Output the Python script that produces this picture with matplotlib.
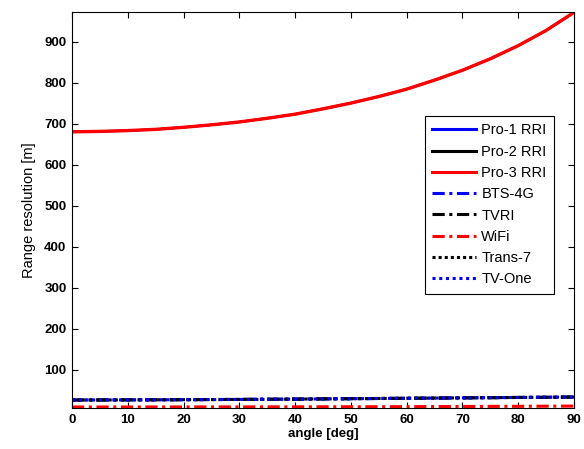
import numpy as np
import matplotlib
matplotlib.use('Agg')
import matplotlib.pyplot as plt

# Range resolution versus look angle for each illuminator
angle_deg = [0, 5, 10, 15, 20, 25, 30, 35, 40, 45,
             50, 55, 60, 65, 70, 75, 80, 85, 90]

# FM radio channels (same bandwidth, the three curves coincide)
pro1_rri = [680, 681, 683, 686, 691, 697, 704, 713, 723, 736,
            750, 766, 784, 806, 830, 858, 890, 927, 971]
pro2_rri = list(pro1_rri)
pro3_rri = list(pro1_rri)

# Wideband transmitters
bts_4g = [26.5, 26.6, 26.8, 27.0, 27.3, 27.6, 27.9, 28.3, 28.7, 29.2,
          29.7, 30.2, 30.7, 31.2, 31.7, 32.2, 32.7, 33.2, 33.7]
tvri = list(bts_4g)
trans_7 = list(bts_4g)
tv_one = list(bts_4g)
wifi = [9.5, 9.5, 9.5, 9.6, 9.6, 9.7, 9.7, 9.8, 9.9, 10.0,
        10.1, 10.2, 10.3, 10.5, 10.7, 10.9, 11.1, 11.4, 11.7]

plt.rcParams['font.family'] = ['Liberation Sans', 'DejaVu Sans']

fig = plt.figure(figsize=(5.84, 4.49), dpi=100)
ax = fig.add_axes([0.1233, 0.0913, 0.8596, 0.8820])

dashdot = (0, (4, 1.5, 1, 1.5))
series = [
    (pro1_rri, 'Pro-1 RRI', 'blue', '-', 1.6),
    (pro2_rri, 'Pro-2 RRI', 'black', '-', 1.6),
    (pro3_rri, 'Pro-3 RRI', 'red', '-', 2.4),
    (bts_4g, 'BTS-4G', 'blue', dashdot, 2.2),
    (tvri, 'TVRI', 'black', dashdot, 2.2),
    (wifi, 'WiFi', 'red', dashdot, 2.2),
    (trans_7, 'Trans-7', 'black', (0, (1, 1)), 2.2),
    (tv_one, 'TV-One', 'blue', (0, (1, 1.2)), 2.2),
]
for values, label, color, ls, lw in series:
    ax.plot(angle_deg, values, color=color, linestyle=ls,
            linewidth=lw, label=label)

ax.set_xlim(0, 90)
ax.set_ylim(7, 972)
ax.set_xticks(np.arange(0, 91, 10))
ax.set_yticks(np.arange(100, 901, 100))
ax.tick_params(direction='in', length=4, width=0.8, top=True, right=True,
               labelsize=9.5, pad=4)
for lbl in ax.get_xticklabels() + ax.get_yticklabels():
    lbl.set_fontweight('bold')
for sp in ax.spines.values():
    sp.set_linewidth(0.8)

ax.set_xlabel('angle [deg]', fontsize=9.5, fontweight='bold', labelpad=2)
ax.set_ylabel('Range resolution [m]', fontsize=10.5, labelpad=6)

leg = ax.legend(loc='upper right', bbox_to_anchor=(0.96, 0.737),
                borderaxespad=0, fontsize=10.5, handlelength=3.0,
                handletextpad=0.4, labelspacing=0.5, fancybox=False,
                framealpha=1, edgecolor='black', borderpad=0.5)
leg.get_frame().set_linewidth(0.8)
for h in leg.get_lines():
    h.set_linewidth(2.2)

fig.savefig('out.png', dpi=100)
